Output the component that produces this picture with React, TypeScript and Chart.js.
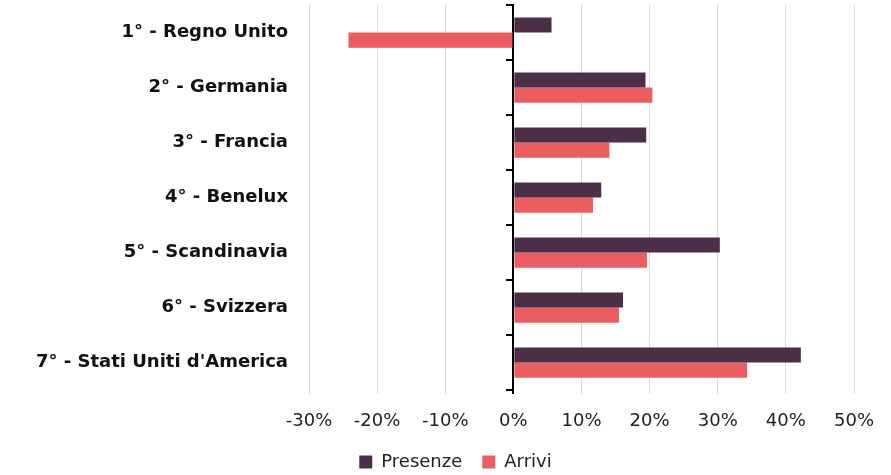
import React, { useEffect, useRef } from "react";
import { Chart, registerables } from "chart.js";

Chart.register(...registerables);

const categories = [
  "1° - Regno Unito",
  "2° - Germania",
  "3° - Francia",
  "4° - Benelux",
  "5° - Scandinavia",
  "6° - Svizzera",
  "7° - Stati Uniti d'America",
];
const presenze = [5.6, 19.4, 19.5, 12.9, 30.3, 16.1, 42.2];
const arrivi = [-24.2, 20.4, 14.1, 11.7, 19.6, 15.5, 34.3];
const xMin = -30;
const xMax = 50;
const xStep = 10;

const FONT = "DejaVu Sans";

export default function App() {
  const ref = useRef<HTMLCanvasElement | null>(null);
  useEffect(() => {
    if (!ref.current) return;
    const chart = new Chart(ref.current, {
      type: "bar",
      data: {
        labels: categories,
        datasets: [
          {
            label: "Presenze",
            data: presenze,
            backgroundColor: "#4b2f48",
            categoryPercentage: 0.55,
            barPercentage: 1,
          },
          {
            label: "Arrivi",
            data: arrivi,
            backgroundColor: "#ea5d61",
            categoryPercentage: 0.55,
            barPercentage: 1,
          },
        ],
      },
      options: {
        indexAxis: "y",
        animation: false,
        responsive: true,
        maintainAspectRatio: false,
        layout: { padding: { top: 5, right: 0, left: 20, bottom: -6 } },
        plugins: {
          tooltip: { enabled: false },
          legend: {
            position: "bottom",
            labels: {
              boxWidth: 13,
              boxHeight: 13,
              padding: 20,
              color: "#222",
              font: { family: FONT, size: 18 },
            },
          },
        },
        scales: {
          x: {
            min: xMin,
            max: xMax,
            ticks: {
              stepSize: xStep,
              color: "#222",
              font: { family: FONT, size: 18 },
              padding: 17,
              callback: (v: any) => `${v}%`,
            },
            grid: {
              color: (ctx: any) => (ctx.tick && ctx.tick.value === 0 ? "#000" : "#d9d9d9"),
              lineWidth: (ctx: any) => (ctx.tick && ctx.tick.value === 0 ? 2 : 1),
              tickLength: 4,
            },
            border: { display: false },
            afterFit: (scale: any) => {
              scale.height = 43;
              scale.paddingRight = 37;
            },
          },
          y: {
            ticks: {
              color: "#111",
              font: { family: FONT, size: 18, weight: "bold" },
              padding: 13,
            },
            grid: { display: false },
            border: { display: false },
            afterFit: (scale: any) => {
              scale.width = 289;
              scale.paddingTop = 0;
              scale.paddingBottom = 0;
            },
          },
          y2: {
            type: "category",
            axis: "y",
            position: { x: 0 },
            offset: true,
            ticks: { display: false },
            grid: {
              offset: true,
              drawOnChartArea: false,
              drawTicks: true,
              tickLength: 6,
              color: "#000",
              lineWidth: 2,
            },
            border: { display: true, color: "#000", width: 2 },
            afterFit: (scale: any) => {
              scale.paddingTop = 0;
              scale.paddingBottom = 0;
            },
          } as any,
        },
      },
    });
    return () => chart.destroy();
  }, []);
  return (
    <div style={{ position: "fixed", left: 0, top: 0, width: 891, height: 475, background: "#fff" }}>
      <canvas ref={ref} />
    </div>
  );
}
